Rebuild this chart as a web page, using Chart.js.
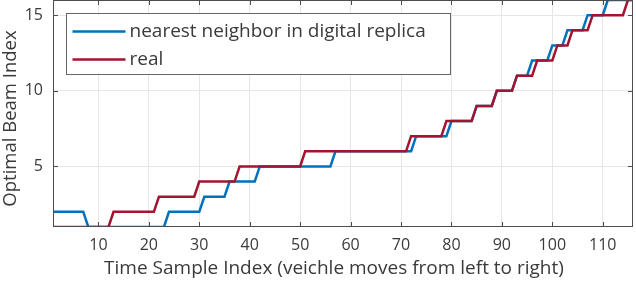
<!DOCTYPE html>
<html><head><meta charset="utf-8">
<script src="https://cdn.jsdelivr.net/npm/chart.js@4.4.0/dist/chart.umd.min.js"></script>
<style>html,body{margin:0;padding:0;background:#fff}#wrap{width:636px;height:284px}</style>
</head><body><div id="wrap"><canvas id="c" width="636" height="284"></canvas></div>
<script>
const seriesNames = ["nearest neighbor in digital replica", "real"];
const nearestNeighbor = [
  2,2,2,2,2,2,2,1,1,1, 1,1,1,1,1,1,1,1,1,1,
  1,1,1,2,2,2,2,2,2,2, 3,3,3,3,3,4,4,4,4,4,
  4,5,5,5,5,5,5,5,5,5, 5,5,5,5,5,5,6,6,6,6,
  6,6,6,6,6,6,6,6,6,6, 6,6,7,7,7,7,7,7,7,8,
  8,8,8,8,9,9,9,9,10,10, 10,10,11,11,11,12,12,12,12,13,
  13,13,14,14,14,14,15,15,15,15, 16,16,16,16,16,16
];
const real = [
  1,1,1,1,1,1,1,1,1,1, 1,1,2,2,2,2,2,2,2,2,
  2,3,3,3,3,3,3,3,3,4, 4,4,4,4,4,4,4,5,5,5,
  5,5,5,5,5,5,5,5,5,5, 6,6,6,6,6,6,6,6,6,6,
  6,6,6,6,6,6,6,6,6,6, 6,7,7,7,7,7,7,7,8,8,
  8,8,8,8,9,9,9,9,10,10, 10,10,11,11,11,11,12,12,12,12,
  13,13,13,14,14,14,14,15,15,15, 15,15,15,15,16,16
];
const xTicks = [10,20,30,40,50,60,70,80,90,100,110];
const yTicks = [5,10,15];
const xTitle = "Time Sample Index (veichle moves from left to right)";
const yTitle = "Optimal Beam Index";

const sampleIndex = nearestNeighbor.map((_, i) => i + 1);
const blue = "#0072BD", red = "#A2142F";
const textColor = "#3a3a3a";
const FONT = "'Open Sans', sans-serif";

const frame = {
  id: 'frame',
  afterDraw(chart) {
    const {ctx, chartArea: a, scales} = chart;
    ctx.save();
    ctx.strokeStyle = "#4d4d4d";
    ctx.lineWidth = 1;
    ctx.beginPath();
    xTicks.forEach(v => {
      const x = Math.round(scales.x.getPixelForValue(v)) + 0.5;
      ctx.moveTo(x, a.bottom); ctx.lineTo(x, a.bottom - 5);
      ctx.moveTo(x, a.top); ctx.lineTo(x, a.top + 5);
    });
    yTicks.forEach(v => {
      const y = Math.round(scales.y.getPixelForValue(v)) + 0.5;
      ctx.moveTo(a.left, y); ctx.lineTo(a.left + 5, y);
      ctx.moveTo(a.right, y); ctx.lineTo(a.right - 5, y);
    });
    ctx.stroke();
    ctx.strokeRect(Math.round(a.left) + 0.5, Math.round(a.top) + 0.5,
      Math.round(a.right - a.left) - 1, Math.round(a.bottom - a.top) - 1);
    // axis titles
    ctx.fillStyle = textColor;
    ctx.textAlign = "center";
    ctx.textBaseline = "alphabetic";
    ctx.font = "19px " + FONT;
    ctx.fillText(xTitle, (a.left + a.right) / 2 - 9, 274);
    ctx.save();
    ctx.font = "18.5px " + FONT;
    ctx.translate(16, (a.top + a.bottom) / 2 + 5);
    ctx.rotate(-Math.PI / 2);
    ctx.fillText(yTitle, 0, 0);
    ctx.restore();
    // legend
    const bx = Math.round(a.left) + 13.5, by = Math.round(a.top) + 13.5, bw = 384, bh = 61;
    ctx.fillStyle = "#fff";
    ctx.fillRect(bx, by, bw, bh);
    ctx.strokeStyle = "#666";
    ctx.strokeRect(bx, by, bw, bh);
    const colors = [blue, red];
    const ys = [by + 18, by + 46];
    ctx.font = "19px " + FONT;
    ctx.textAlign = "left";
    ctx.textBaseline = "middle";
    seriesNames.forEach((n, i) => {
      ctx.strokeStyle = colors[i];
      ctx.lineWidth = 2.5;
      ctx.beginPath();
      ctx.moveTo(bx + 6, ys[i]); ctx.lineTo(bx + 59, ys[i]);
      ctx.stroke();
      ctx.fillStyle = textColor;
      ctx.fillText(n, bx + 63, ys[i]);
    });
    ctx.restore();
  }
};

new Chart(document.getElementById('c'), {
  type: 'line',
  data: {
    labels: sampleIndex,
    datasets: [
      { label: seriesNames[0], data: nearestNeighbor.map((v, i) => ({x: sampleIndex[i], y: v})),
        borderColor: blue, borderWidth: 2.5, pointRadius: 0, tension: 0, order: 2 },
      { label: seriesNames[1], data: real.map((v, i) => ({x: sampleIndex[i], y: v})),
        borderColor: red, borderWidth: 2.5, pointRadius: 0, tension: 0, order: 1 }
    ]
  },
  options: {
    responsive: false,
    animation: false,
    devicePixelRatio: 1,
    layout: { padding: { top: 0, right: 3, left: 0, bottom: 0 } },
    plugins: { legend: { display: false }, tooltip: { enabled: false } },
    scales: {
      x: {
        type: 'linear', min: 1, max: 116,
        afterBuildTicks: s => { s.ticks = xTicks.map(v => ({value: v})); },
        afterFit: s => { s.height = 57; s.paddingLeft = 0; s.paddingRight = 0; },
        grid: { color: "#e6e6e6", drawTicks: false },
        border: { display: false },
        ticks: { color: textColor, font: { family: FONT, size: 16 }, padding: 9, maxRotation: 0 }
      },
      y: {
        type: 'linear', min: 1, max: 16,
        afterBuildTicks: s => { s.ticks = yTicks.map(v => ({value: v})); },
        afterFit: s => { s.width = 53; s.paddingTop = 0; s.paddingBottom = 0; },
        grid: { color: "#e6e6e6", drawTicks: false },
        border: { display: false },
        ticks: { color: textColor, font: { family: FONT, size: 16 }, padding: 10 }
      }
    }
  },
  plugins: [frame]
});
</script>
</body></html>
